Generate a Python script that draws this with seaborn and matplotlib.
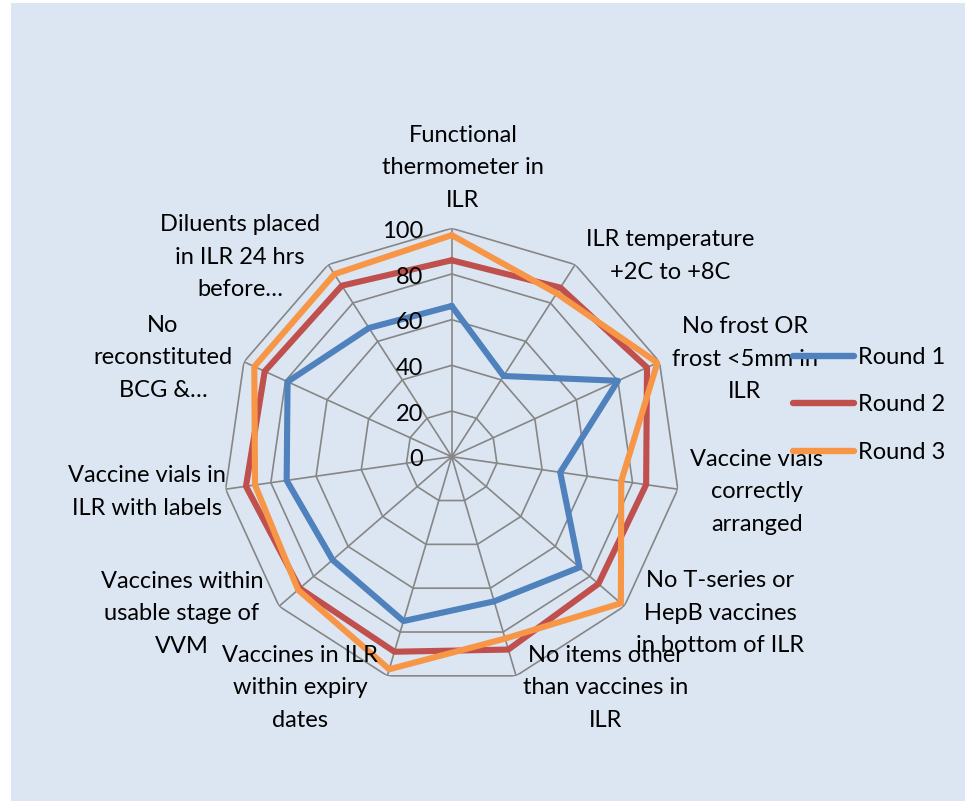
import numpy as np
import pandas as pd
import matplotlib
matplotlib.use("Agg")
import matplotlib.pyplot as plt
import seaborn as sns
from matplotlib.patches import Rectangle

categories = [
    "Functional\nthermometer in\nILR",
    "ILR temperature\n+2C to +8C",
    "No frost OR\nfrost <5mm in\nILR",
    "Vaccine vials\ncorrectly\narranged",
    "No T-series or\nHepB vaccines\nin bottom of ILR",
    "No items other\nthan vaccines in\nILR",
    "Vaccines in ILR\nwithin expiry\ndates",
    "Vaccines within\nusable stage of\nVVM",
    "Vaccine vials in\nILR with labels",
    "No\nreconstituted\nBCG &…",
    "Diluents placed\nin ILR 24 hrs\nbefore…",
]
series_names = ["Round 1", "Round 2", "Round 3"]
round1 = [66, 42, 80, 48, 74, 66, 75, 69, 73, 79, 67]
round2 = [86, 88, 94, 86, 85, 88, 89, 88, 91, 90, 89]
round3 = [97, 85, 99, 75, 98, 83, 97, 89, 87, 95, 95]
radial_ticks = [0, 20, 40, 60, 80, 100]

colors = ["#4f81bd", "#c0504d", "#f79646"]
grid_color = "#868686"
bg_color = "#dce6f2"

sns.set_theme(style="white")
plt.rcParams["font.family"] = ["Lato", "DejaVu Sans"]
plt.rcParams["text.color"] = "black"
FS = 17

W, H = 965, 801
fig = plt.figure(figsize=(W / 100, H / 100), dpi=100, facecolor="white")
fig.add_artist(Rectangle((11 / W, 0), 1 - 11 / W, (H - 3) / H,
                         transform=fig.transFigure, facecolor=bg_color,
                         edgecolor="none", zorder=-10))

cx, cy, R = 451.7, 456.7, 228.4
ax = fig.add_axes([(cx - R) / W, (H - cy - R) / H, 2 * R / W, 2 * R / H],
                  projection="polar")
ax.set_facecolor("none")
ax.set_theta_zero_location("N")
ax.set_theta_direction(-1)
ax.set_ylim(0, 100)
ax.set_xticks([])
ax.set_yticks([])
ax.grid(False)
ax.spines["polar"].set_visible(False)

n = len(categories)
angles = np.arange(n) * 2 * np.pi / n
angles_closed = np.append(angles, 2 * np.pi)

# polygon grid
for r in radial_ticks[1:]:
    ax.plot(angles_closed, [r] * (n + 1), color=grid_color, lw=1.2, zorder=1)
for a in angles:
    ax.plot([a, a], [0, 100], color=grid_color, lw=1.2, zorder=1)

# data
rows = []
for name, vals in zip(series_names, [round1, round2, round3]):
    vv = list(vals) + [vals[0]]
    for i, (a, v) in enumerate(zip(angles_closed, vv)):
        rows.append({"theta": a, "value": v, "series": name, "order": i})
df = pd.DataFrame(rows)
sns.lineplot(data=df, x="theta", y="value", hue="series", sort=False,
             estimator=None, palette=colors, linewidth=4.4, ax=ax,
             legend=True, zorder=3)
for ln in ax.lines[-3:]:
    ln.set_solid_joinstyle("miter")
ax.set_xlabel("")
ax.set_ylabel("")
ax.set_ylim(0, 100)
handles, labels = ax.get_legend_handles_labels()
ax.get_legend().remove()

# radial tick labels
for r in radial_ticks:
    ax.annotate(str(r), xy=(0, r), xytext=(-20.5, -2.2), textcoords="offset points",
                ha="right", va="center", fontsize=FS, color="black", zorder=5)

# category labels (pixel centres)
label_pos = [(463, 168), (670, 256), (745, 359), (757, 492), (720, 613),
             (606, 688), (300, 688), (182, 614), (147, 492), (163, 358),
             (240, 257)]
for lab, (px, py) in zip(categories, label_pos):
    fig.text(px / W, 1 - py / H, lab, ha="center", va="center",
             fontsize=FS, linespacing=1.7, color="black", zorder=6)

for h in handles:
    h.set_linewidth(4.6)
    h.set_solid_capstyle("round")
leg = fig.legend(handles, labels, loc="upper left",
                 bbox_to_anchor=(793 / W, 1 - 347 / H), frameon=False,
                 fontsize=FS, handlelength=2.6, handletextpad=0.15,
                 labelspacing=1.12, borderpad=0, borderaxespad=0)
for t in leg.get_texts():
    t.set_color("black")
leg.set_zorder(10)

fig.savefig("out.png", dpi=100, facecolor="white")
